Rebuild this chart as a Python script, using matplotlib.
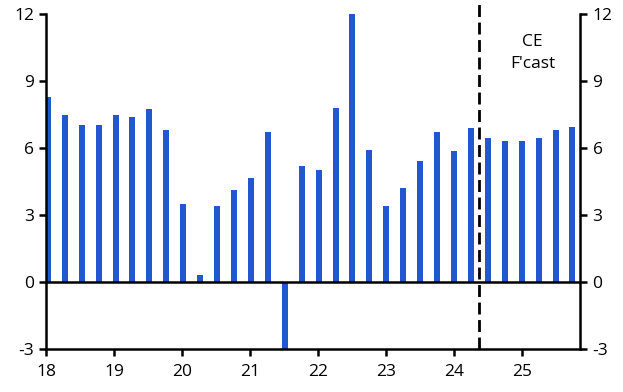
import numpy as np
import matplotlib
matplotlib.use("Agg")
import matplotlib.pyplot as plt

# quarterly values, 2018Q1 - 2025Q4
years = np.arange(2018, 2026)
quarters = ["Q1", "Q2", "Q3", "Q4"]
values = [8.3, 7.5, 7.05, 7.05,
          7.5, 7.4, 7.75, 6.8,
          3.5, 0.3, 3.4, 4.1,
          4.65, 6.7, -3.6, 5.2,
          5.0, 7.8, 12.0, 5.9,
          3.4, 4.2, 5.4, 6.7,
          5.85, 6.9, 6.45, 6.3,
          6.3, 6.45, 6.8, 6.95]
forecast_start = 24.36
tick_labels = ["18", "19", "20", "21", "22", "23", "24", "25"]

# bars sit a touch right of the year tick
x = 18.02 + np.arange(len(values)) * 0.249

plt.rcParams["font.family"] = ["Open Sans", "DejaVu Sans"]
plt.rcParams["font.size"] = 12.5
plt.rcParams["axes.unicode_minus"] = False

fig = plt.figure(figsize=(6.23, 3.92), dpi=100)
ax = fig.add_axes([0.0746, 0.110, 0.8564, 0.854])

ax.bar(x, values, width=0.088, color="#2158D0", zorder=2)
ax.axhline(0, color="black", lw=1.8, zorder=3)
ax.axvline(forecast_start, ymin=0, ymax=1.045, color="black", lw=2,
           dashes=(4.3, 2), clip_on=False, zorder=4)
ax.text(25.15, 10.25, "CE\nF'cast", ha="center", va="center", linespacing=1.55)

ax.set_xlim(18.0, 25.85)
ax.set_ylim(-3, 12)
ax.set_yticks([-3, 0, 3, 6, 9, 12])
ax.set_xticks(np.arange(18, 26))
ax.set_xticklabels(tick_labels)

ax.spines["top"].set_visible(False)
for s in ["left", "right", "bottom"]:
    ax.spines[s].set_linewidth(1.8)
ax.tick_params(axis="y", which="both", left=True, right=True, labelleft=True,
               labelright=True, length=5, width=1.8, pad=4)
ax.tick_params(axis="x", length=5, width=1.8, pad=6)

fig.savefig("out.png", dpi=100)
